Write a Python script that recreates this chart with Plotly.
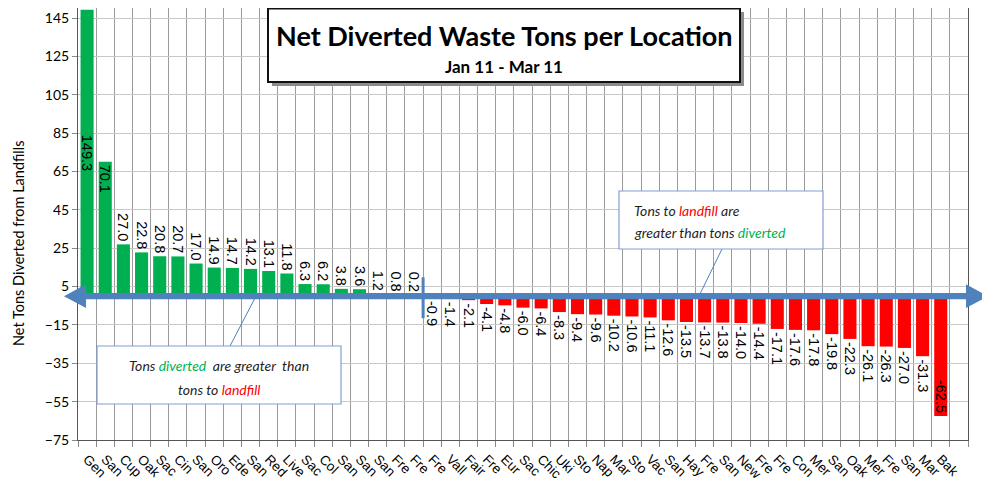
import plotly.graph_objects as go

# ---------------- data ----------------
locations = ["Gen", "San", "Cup", "Oak", "Sac", "Cin", "San", "Oro", "Ede", "San",
             "Red", "Live", "Sac", "Col", "San", "San", "San", "Fre", "Fre", "Fre",
             "Vall", "Fair", "Fre", "Eur", "Sac", "Chic", "Uki", "Sto", "Nap", "Mar",
             "Sto", "Vac", "San", "Hay", "Fre", "San", "New", "Fre", "Fre", "Con",
             "Mer", "San", "Oak", "Mer", "Fre", "San", "Mar", "Bak"]
net_tons = [149.3, 70.1, 27.0, 22.8, 20.8, 20.7, 17.0, 14.9, 14.7, 14.2,
            13.1, 11.8, 6.3, 6.2, 3.8, 3.6, 1.2, 0.8, 0.2, -0.9,
            -1.4, -2.1, -4.1, -4.8, -6.0, -6.4, -8.3, -9.4, -9.6, -10.2,
            -10.6, -11.1, -12.6, -13.5, -13.7, -13.8, -14.0, -14.4, -17.1, -17.6,
            -17.8, -19.8, -22.3, -26.1, -26.3, -27.0, -31.3, -62.5]
y_ticks = [-75, -55, -35, -15, 5, 25, 45, 65, 85, 105, 125, 145]

title_text = "Net Diverted Waste Tons per Location"
subtitle_text = "Jan 11 - Mar 11"
y_title = "Net Tons Diverted from Landfills"

GREEN = "#00B050"
RED = "#FF0000"
BLUE = "#4F81BD"

# ---------------- geometry (page has an 8px body margin) ----------------
OFF = 8
W, H = 990 - OFF, 489 - OFF
L, R, T, B = 70, 22, 0, 49
PW, PH = W - L - R, H - T - B


def px(x):  # page pixel -> paper x
    return (x - OFF - L) / PW


def py(y):  # page pixel -> paper y
    return (T + PH - (y - OFF)) / PH


n = len(locations)
xs = list(range(n))
labels = [f"{v:.1f}" for v in net_tons]
colors = [GREEN if v > 0 else RED for v in net_tons]
textpos = ["inside" if abs(v) > 50 else "outside" for v in net_tons]

bar_font = dict(family="Liberation Sans, Arial", size=14.5, color="black")
fig = go.Figure()
# tallest bar: label centred in the bar
fig.add_trace(go.Bar(
    x=xs[:1], y=net_tons[:1], width=0.72,
    marker=dict(color=colors[:1], line=dict(width=0)),
    text=labels[:1], textposition="inside", insidetextanchor="middle",
    textangle=90, constraintext="none", cliponaxis=False,
    textfont=bar_font, hoverinfo="skip",
))
# remaining bars
fig.add_trace(go.Bar(
    x=xs[1:], y=net_tons[1:], width=0.72,
    marker=dict(color=colors[1:], line=dict(width=0)),
    text=labels[1:], textposition=textpos[1:], insidetextanchor="end",
    textangle=90, constraintext="none", cliponaxis=False,
    textfont=bar_font, hoverinfo="skip",
))

shapes = []
# blue double-headed arrow along zero
hh, sh = 6.2, 1.6
xl_tip, xl_base, xr_base, xr_tip = px(64), px(86), px(966), px(988)
path = (f"M {xl_tip},0 L {xl_base},{hh} L {xl_base},{sh} L {xr_base},{sh} "
        f"L {xr_base},{hh} L {xr_tip},0 L {xr_base},{-hh} L {xr_base},{-sh} "
        f"L {xl_base},{-sh} L {xl_base},{-hh} Z")
shapes.append(dict(type="path", xref="paper", yref="y", path=path,
                   fillcolor=BLUE, line=dict(width=0), layer="above"))
# divider between positive and negative
shapes.append(dict(type="line", xref="x", yref="y", x0=18.5, x1=18.5, y0=9.8, y1=-11.5,
                   line=dict(color=BLUE, width=3), layer="above"))
# pointer lines
shapes.append(dict(type="line", xref="paper", yref="paper", x0=px(230), y0=py(346),
                   x1=px(255), y1=py(298), line=dict(color=BLUE, width=1), layer="above"))
shapes.append(dict(type="line", xref="paper", yref="paper", x0=px(722), y0=py(249),
                   x1=px(699), y1=py(296), line=dict(color=BLUE, width=1), layer="above"))
# callout boxes
shapes.append(dict(type="rect", xref="paper", yref="paper", x0=px(97), x1=px(341),
                   y0=py(404), y1=py(346), fillcolor="white",
                   line=dict(color="#7F9FCF", width=1.2), layer="above"))
shapes.append(dict(type="rect", xref="paper", yref="paper", x0=px(619), x1=px(823),
                   y0=py(249), y1=py(191), fillcolor="white",
                   line=dict(color="#7F9FCF", width=1.2), layer="above"))
# title box with shadow
shapes.append(dict(type="rect", xref="paper", yref="paper", x0=px(272), x1=px(744),
                   y0=py(86), y1=py(12), fillcolor="#8C8C8C", line=dict(width=0), layer="above"))
shapes.append(dict(type="rect", xref="paper", yref="paper", x0=px(268), x1=px(740),
                   y0=py(82), y1=py(8.5), fillcolor="white",
                   line=dict(color="#111111", width=2), layer="above"))

ann_font = dict(family="Lato, Carlito, sans-serif", size=14, color="#1F1F1F")


def ann(x, y, text, font, xanchor="center", angle=0):
    return dict(x=px(x), y=py(y), xref="paper", yref="paper", text=text,
                showarrow=False, xanchor=xanchor, yanchor="middle", font=font,
                textangle=angle)


annotations = [
    ann(504, 36, f"<b>{title_text}</b>",
        dict(family="Lato, sans-serif", size=27, color="black")),
    ann(504, 66, f"<b>{subtitle_text}</b>",
        dict(family="Lato, sans-serif", size=17, color="black")),
    ann(219, 365, f"<i>Tons <span style='color:{GREEN}'>diverted</span>  are greater  than</i>", ann_font),
    ann(219, 389, f"<i>tons to <span style='color:{RED}'>landfill</span></i>", ann_font),
    ann(632, 210, f"<i>Tons to <span style='color:{RED}'>landfill</span> are</i>", ann_font, "left"),
    ann(632, 232, f"<i>greater than tons <span style='color:{GREEN}'>diverted</span></i>", ann_font, "left"),
    ann(18, 244, y_title, dict(family="Lato, sans-serif", size=14.5, color="black"),
        angle=-90),
]

# y range: -75 at page y 440, 145 at page y 18
ppu = (440 - 18) / 220.0
y_top = 145 + (18 - OFF) / ppu

fig.update_layout(
    width=W, height=H,
    margin=dict(l=L, r=R, t=T, b=B, pad=0),
    paper_bgcolor="white", plot_bgcolor="white",
    showlegend=False, barmode="overlay",
    shapes=shapes, annotations=annotations,
    xaxis=dict(
        range=[-0.5, n + 0.5], tickmode="array", tickvals=xs, ticktext=locations,
        tickangle=45, showgrid=False, ticks="", automargin=False,
        ticklabelstandoff=5,
        tickfont=dict(family="Liberation Sans, Arial", size=13.5, color="black"),
        showline=True, linecolor="#555555", linewidth=1, zeroline=False,
        minor=dict(tickmode="array", tickvals=[i - 0.5 for i in range(n + 2)],
                   showgrid=True, gridcolor="#9A9A9A", gridwidth=1,
                   ticks="outside", ticklen=6, tickcolor="#888888"),
    ),
    yaxis=dict(
        range=[-75, y_top], tickmode="array", tickvals=y_ticks,
        showgrid=True, gridcolor="#C8C8C8", gridwidth=1, zeroline=False,
        ticks="outside", ticklen=5, tickcolor="#888888",
        showline=True, linecolor="#555555", linewidth=1, mirror=True,
        automargin=False,
        tickfont=dict(family="Lato, sans-serif", size=14, color="black"),
    ),
)

fig.write_html("out.html")
